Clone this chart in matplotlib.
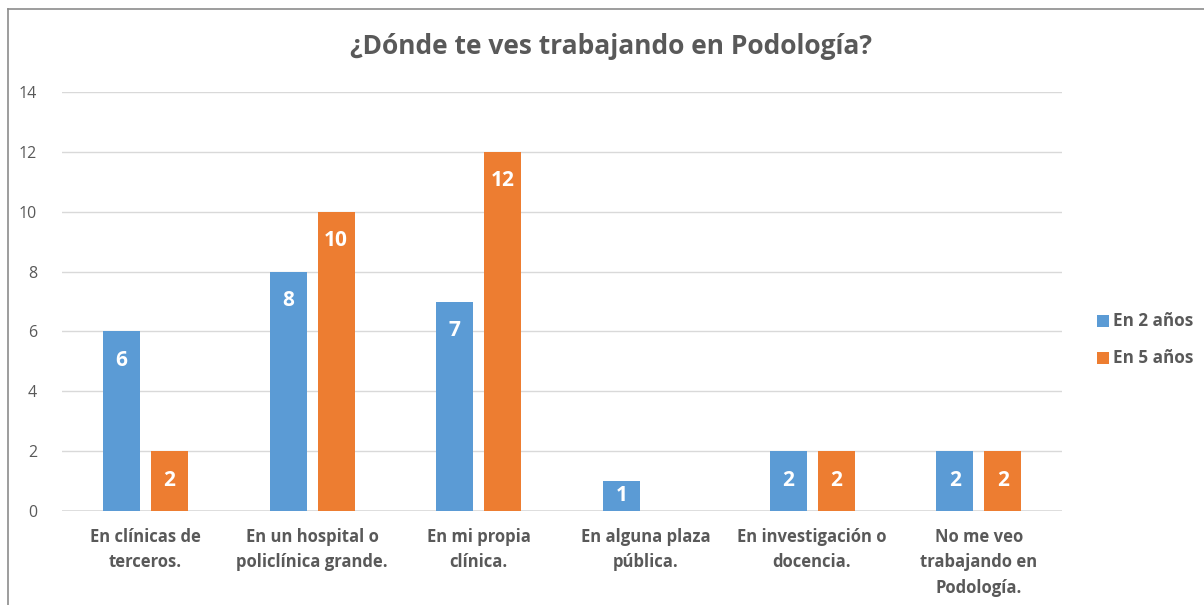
import matplotlib
matplotlib.use("Agg")
import matplotlib.pyplot as plt
import numpy as np
from matplotlib.patches import Rectangle
from matplotlib.lines import Line2D

categories = ["En clínicas de\nterceros.", "En un hospital o\npoliclínica grande.", "En mi propia\nclínica.",
              "En alguna plaza\npública.", "En investigación o\ndocencia.", "No me veo\ntrabajando en\nPodología."]
series_names = ["En 2 años", "En 5 años"]
en_2 = [6, 8, 7, 1, 2, 2]
en_5 = [2, 10, 12, 0, 2, 2]
yticks = [0, 2, 4, 6, 8, 10, 12, 14]
title = "¿Dónde te ves trabajando en Podología?"

BLUE = "#5B9BD5"
ORANGE = "#ED7D31"
TXT = "#595959"
FONT = ["Open Sans", "DejaVu Sans"]
plt.rcParams['font.family'] = FONT

fig = plt.figure(figsize=(12.04, 6.05), dpi=100)
ax = fig.add_axes([62/1204, 1-511/605, 1000/1204, (511-92)/605])

x = np.arange(len(categories))
w = 0.222
off = 0.144
b1 = ax.bar(x - off, en_2, w, color=BLUE, zorder=3)
b2 = ax.bar(x + off, en_5, w, color=ORANGE, zorder=3)

for bars, vals in ((b1, en_2), (b2, en_5)):
    for r, v in zip(bars, vals):
        if v > 0:
            d = min(0.89, v - 0.61)
            ax.text(r.get_x() + r.get_width()/2, v - d, str(v), ha='center', va='center_baseline',
                    color='white', fontsize=15, fontweight='bold', zorder=4)

ax.set_xlim(-0.5, len(categories) - 0.5)
ax.set_ylim(0, 14)
ax.set_yticks(yticks)
ax.set_yticklabels([str(t) for t in yticks], fontsize=11.5, color=TXT)
ax.set_xticks(x)
ax.set_xticklabels(categories, fontsize=12, fontweight='bold', color=TXT, linespacing=1.55, va='top')
ax.tick_params(axis='both', length=0)
ax.tick_params(axis='y', pad=18)
ax.tick_params(axis='x', pad=12)
ax.grid(axis='y', color='#D9D9D9', linewidth=1, zorder=0)
for s in ax.spines.values():
    s.set_visible(False)
ax.axhline(0, color='#D9D9D9', linewidth=1.2, zorder=2)

fig.text(611/1204, 1-47/605, title, ha='center', va='center', fontsize=19,
         fontweight='bold', color=TXT)

# legend
for i, (name, col) in enumerate(zip(series_names, [BLUE, ORANGE])):
    yc = 1 - (321 + 37*i)/605
    fig.patches.append(Rectangle((1097/1204, yc - 6/605), 12/1204, 12/605, transform=fig.transFigure,
                                 facecolor=col, edgecolor='none'))
    fig.text(1113/1204, yc, name, ha='left', va='center', fontsize=12.3, fontweight='bold', color=TXT)

# chart border (left and top visible)
fig.add_artist(Line2D([8/1204, 8/1204], [0, 1-9/605], transform=fig.transFigure, color='#8C8C8C', lw=1.2))
fig.add_artist(Line2D([8/1204, 1], [1-9/605, 1-9/605], transform=fig.transFigure, color='#8C8C8C', lw=1.2))

fig.savefig("out.png", dpi=100)
